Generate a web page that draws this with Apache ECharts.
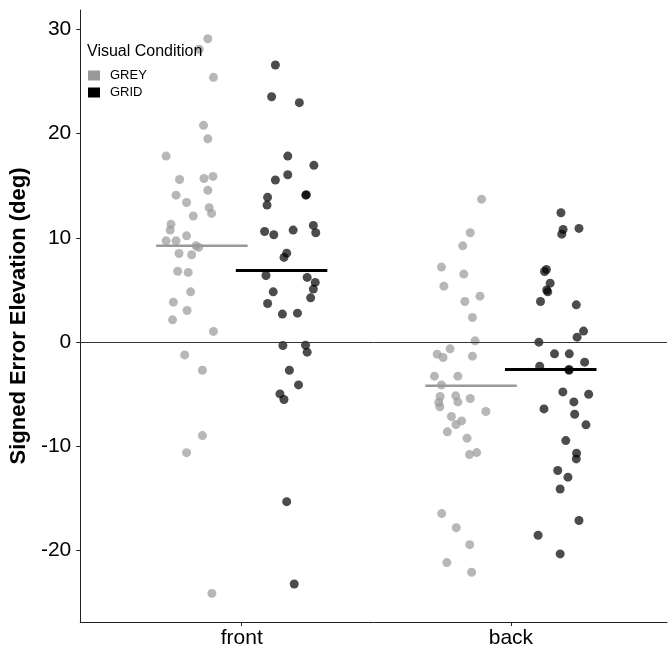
<!DOCTYPE html>
<html><head><meta charset="utf-8">
<script src="https://cdn.jsdelivr.net/npm/echarts@6/dist/echarts.min.js"></script>
<style>html,body{margin:0;padding:0;background:#fff}#c{width:669px;height:652px}</style>
</head><body><div id="c"></div>
<script>
const categories = ['front', 'back'];
const conditions = ['GREY', 'GRID'];
const yTicks = [-20, -10, 0, 10, 20, 30];

// jittered x positions (axis units: front = 1, back = 2) and values (deg)
const greyFrontX = [0.874,0.842,0.895,0.858,0.874,0.719,0.893,0.860,0.769,0.874,0.756,0.795,0.879,0.888,0.820,0.737,0.734,0.795,0.719,0.756,0.830,0.840,0.767,0.814,0.762,0.801,0.810,0.746,0.797,0.743,0.895,0.788,0.854,0.854,0.795,0.889];
const greyFrontY = [29.1,28.1,25.4,20.8,19.5,17.85,15.9,15.7,15.6,14.56,14.1,13.4,12.9,12.35,12.1,11.3,10.75,10.2,9.72,9.72,9.24,9.09,8.5,8.38,6.8,6.69,4.83,3.84,3.04,2.14,1.03,-1.22,-2.69,-8.96,-10.6,-24.1];
const gridFrontX = [1.125,1.111,1.214,1.171,1.268,1.171,1.125,1.238,1.240,1.096,1.094,1.085,1.119,1.191,1.266,1.275,1.167,1.157,1.090,1.243,1.273,1.266,1.117,1.256,1.096,1.151,1.207,1.153,1.237,1.243,1.177,1.211,1.142,1.157,1.167,1.195];
const gridFrontY = [26.58,23.54,22.97,17.85,16.96,16.06,15.55,14.1,14.15,13.89,13.15,10.62,10.3,10.75,11.2,10.49,8.54,8.13,6.4,6.21,5.73,5.09,4.83,4.25,3.71,2.69,2.78,-0.32,-0.29,-0.96,-2.69,-4.1,-4.96,-5.5,-15.3,-23.2];
const greyBackX = [1.891,1.849,1.821,1.742,1.825,1.751,1.885,1.829,1.857,1.867,1.774,1.726,1.748,1.857,1.716,1.803,1.742,1.737,1.795,1.849,1.732,1.803,1.736,1.907,1.779,1.817,1.796,1.764,1.837,1.873,1.846,1.743,1.797,1.847,1.762,1.854];
const greyBackY = [13.72,10.49,9.24,7.2,6.53,5.37,4.41,3.9,2.37,0.13,-0.64,-1.15,-1.47,-1.34,-3.26,-3.26,-4.1,-5.21,-5.15,-5.4,-5.79,-5.73,-6.2,-6.65,-7.13,-7.55,-7.9,-8.6,-9.21,-10.59,-10.78,-16.44,-17.79,-19.42,-21.14,-22.07];
const gridBackX = [2.186,2.253,2.194,2.189,2.132,2.125,2.146,2.137,2.133,2.110,2.243,2.270,2.246,2.104,2.162,2.217,2.274,2.107,2.216,2.216,2.193,2.289,2.234,2.123,2.237,2.279,2.204,2.244,2.243,2.174,2.212,2.183,2.253,2.101,2.183];
const gridBackY = [12.41,10.91,10.81,10.36,6.97,6.78,5.66,4.83,5.0,3.9,3.58,1.06,0.48,0.0,-1.12,-1.12,-1.92,-2.3,-2.69,-2.62,-4.77,-4.99,-5.73,-6.4,-6.91,-7.93,-9.44,-10.65,-11.2,-12.31,-12.95,-14.08,-17.1,-18.52,-20.31];

// group means (front, back)
const greyMeans = [9.24, -4.19];
const gridMeans = [6.88, -2.62];

const FONT = 'Liberation Sans, Arial, sans-serif';
const zip = (xs, ys) => xs.map((x, i) => [x, ys[i]]);
const dodge = 0.148, halfW = 0.17;

function meanSeries(name, means, sign, color, width) {
  return means.map((m, i) => ({
    name: name + ' mean ' + categories[i],
    type: 'line',
    data: [[i + 1 + sign * dodge - halfW, m], [i + 1 + sign * dodge + halfW, m]],
    symbol: 'none',
    silent: true,
    z: 4,
    lineStyle: { color: color, width: width, cap: 'butt' }
  }));
}

const chart = echarts.init(document.getElementById('c'), null, { renderer: 'canvas' });
chart.setOption({
  animation: false,
  backgroundColor: '#ffffff',
  textStyle: { fontFamily: FONT },
  grid: { left: 78, right: 2, top: 10, bottom: 30 },
  title: {
    text: 'Visual Condition', left: 87, top: 44, padding: 0,
    textStyle: { fontFamily: FONT, fontSize: 16, fontWeight: 'normal', color: '#000' }
  },
  legend: {
    orient: 'vertical', left: 88, top: 69, icon: 'rect', padding: 0,
    itemWidth: 12, itemHeight: 10, itemGap: 4, selectedMode: false,
    textStyle: { fontFamily: FONT, fontSize: 13, color: '#000', padding: [0, 0, 0, 5] },
    data: [
      { name: 'GREY', itemStyle: { color: '#999999', opacity: 1 } },
      { name: 'GRID', itemStyle: { color: '#000000', opacity: 1 } }
    ]
  },
  xAxis: {
    type: 'value', min: 0.4, max: 2.58,
    splitLine: { show: false },
    axisLine: { onZero: false, lineStyle: { color: '#222', width: 1 } },
    axisTick: { show: true, customValues: [1, 2], length: 4, lineStyle: { color: '#222' } },
    axisLabel: {
      customValues: [1, 2], fontSize: 21, color: '#000', fontFamily: FONT, margin: 6,
      formatter: v => categories[Math.round(v) - 1] || ''
    }
  },
  yAxis: {
    type: 'value', min: -26.84, max: 31.86,
    name: 'Signed Error Elevation (deg)', nameLocation: 'middle', nameGap: 50,
    nameTextStyle: { fontFamily: FONT, fontSize: 22, fontWeight: 'bold', color: '#000' },
    splitLine: { show: false },
    axisLine: { onZero: false, lineStyle: { color: '#222', width: 1 } },
    axisTick: { show: true, customValues: yTicks, length: 4, lineStyle: { color: '#222' } },
    axisLabel: { customValues: yTicks, fontSize: 21, color: '#000', fontFamily: FONT, margin: 9 }
  },
  series: [
    {
      name: 'GREY', type: 'scatter', symbolSize: 9,
      data: zip(greyFrontX, greyFrontY).concat(zip(greyBackX, greyBackY)),
      itemStyle: { color: '#999999', opacity: 0.7 },
      markLine: {
        silent: true, symbol: 'none', label: { show: false },
        lineStyle: { color: '#333', width: 1, type: 'solid' },
        data: [{ yAxis: 0 }]
      },
      z: 2
    },
    {
      name: 'GRID', type: 'scatter', symbolSize: 9,
      data: zip(gridFrontX, gridFrontY).concat(zip(gridBackX, gridBackY)),
      itemStyle: { color: '#000000', opacity: 0.7 },
      z: 3
    }
  ].concat(meanSeries('GREY', greyMeans, -1, '#999999', 2.5))
   .concat(meanSeries('GRID', gridMeans, 1, '#000000', 3))
});
</script>
</body></html>
